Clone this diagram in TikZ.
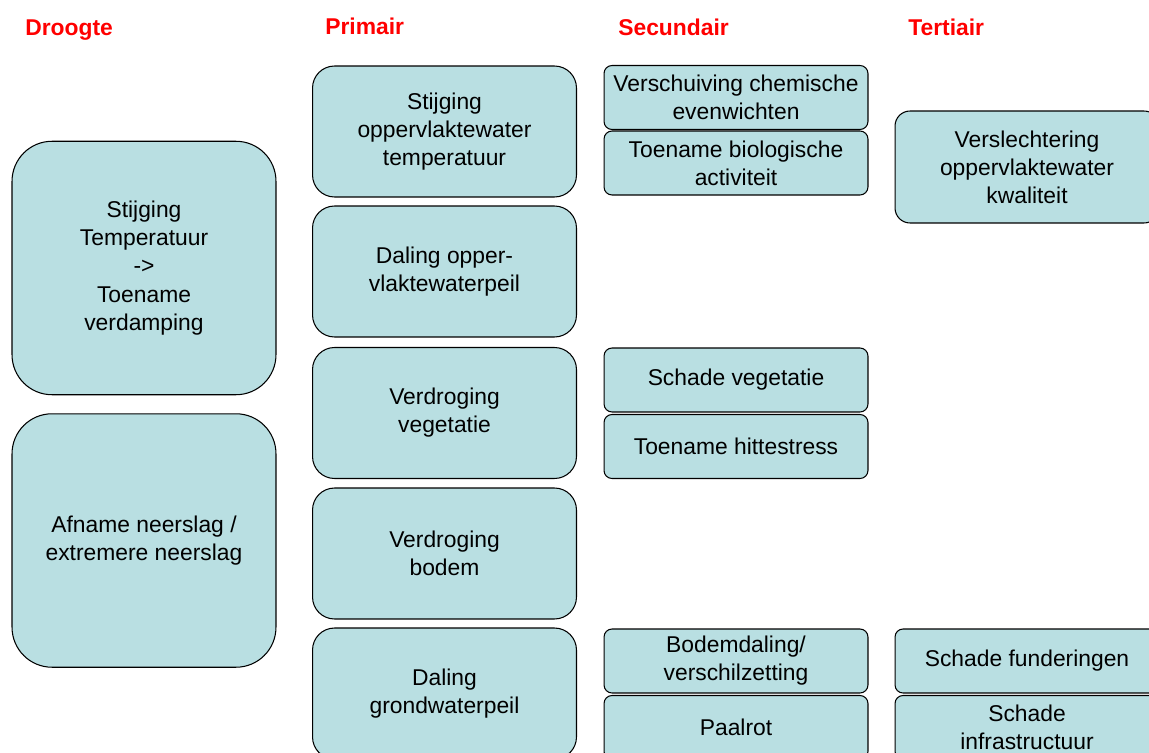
\documentclass[tikz,border=0pt]{standalone}
\usepackage{fontspec}
\setmainfont{Liberation Sans}
\usepackage{xcolor}
\definecolor{boxblue}{RGB}{185,223,226}

\begin{document}
\begin{tikzpicture}[x=0.02cm, y=-0.02cm,
    kop/.style={anchor=west, text=red, inner sep=0pt, font=\fontsize{13}{16}\selectfont\bfseries},
    blok/.style={draw=black, line width=0.6pt, fill=boxblue, align=center, inner sep=0pt,
        minimum width=5.28cm, font=\fontsize{13}{16}\selectfont},
    groot/.style={blok, rounded corners=0.8cm, minimum height=5.07cm},
    middel/.style={blok, rounded corners=0.44cm, minimum height=2.62cm},
    klein/.style={blok, rounded corners=0.16cm, minimum height=1.28cm}]
    % Frame
    \clip (0,0) rectangle (1149,753);

    % Column headings
    \node[kop] (droogte) at (25,30) {Droogte};
    \node[kop] (primair) at (325,26) {Primair};
    \node[kop] (secundair) at (618,27) {Secundair};
    \node[kop] (tertiair) at (908,27) {Tertiair};

    % Droogte
    \node[groot] (temp) at (144,268) {Stijging\\Temperatuur\\->\\Toename\\verdamping};
    \node[groot] (neerslag) at (144,540.5) {Afname neerslag /\\extremere neerslag};

    % Primair
    \node[middel] (owtemp) at (444.5,131.5) {Stijging\\oppervlaktewater\\temperatuur};
    \node[middel] (owpeil) at (444.5,271.5) {Daling opper-\\vlaktewaterpeil};
    \node[middel] (vegetatie) at (444.5,413) {Verdroging\\vegetatie};
    \node[middel] (bodem) at (444.5,553.5) {Verdroging\\bodem};
    \node[middel] (gwpeil) at (444.5,693.5) {Daling\\grondwaterpeil};

    % Secundair
    \node[klein] (chemie) at (736,97.5) {Verschuiving chemische\\evenwichten};
    \node[klein] (biologie) at (736,163) {Toename biologische\\activiteit};
    \node[klein] (schadeveg) at (736,380) {Schade vegetatie};
    \node[klein] (hitte) at (736,446.5) {Toename hittestress};
    \node[klein] (bodemdaling) at (736,661) {Bodemdaling/\\verschilzetting};
    \node[klein] (paalrot) at (736,727.5) {Paalrot};

    % Tertiair
    \node[blok, rounded corners=0.3cm, minimum height=2.24cm] (kwaliteit) at (1027,167) {Verslechtering\\oppervlaktewater\\kwaliteit};
    \node[klein] (funderingen) at (1027,661) {Schade funderingen};
    \node[klein] (infra) at (1027,727.5) {Schade\\infrastructuur};
\end{tikzpicture}
\end{document}
